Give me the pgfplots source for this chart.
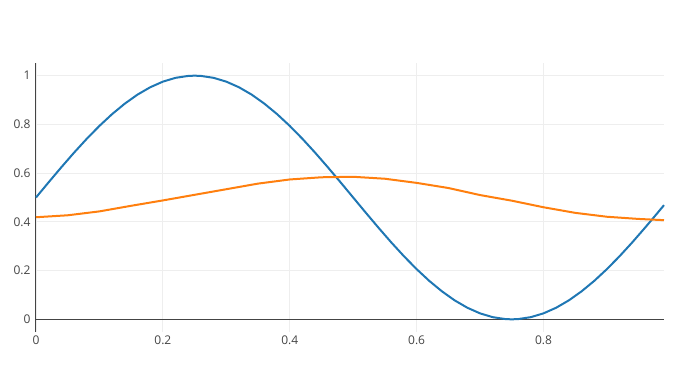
\documentclass[border=0pt]{standalone}
\usepackage{fontspec}
\setmainfont{Open Sans}
\usepackage{pgfplots}
\pgfplotsset{compat=1.18}
\definecolor{pblue}{HTML}{1F77B4}
\definecolor{porange}{HTML}{FF7F0E}
\definecolor{pgrid}{HTML}{EEEEEE}
\definecolor{ptext}{HTML}{444444}
\begin{document}
\begin{tikzpicture}
\begin{axis}[
  scale only axis,
  width=628pt, height=269pt,
  xmin=0, xmax=0.99,
  ymin=-0.052, ymax=1.052,
  axis y line=left, axis x line=bottom,
  x axis line style={draw=none},
  y axis line style={-, draw=ptext, line width=1pt},
  xtick={0,0.2,0.4,0.6,0.8},
  ytick={0,0.2,0.4,0.6,0.8,1},
  major tick length=0pt,
  grid=major,
  major grid style={pgrid, line width=0.8pt},
  extra y ticks={0},
  extra y tick labels={},
  extra y tick style={grid=major, major grid style={ptext, line width=1pt}},
  tick label style={font=\fontsize{12}{14}\selectfont, text=ptext},
  /pgf/number format/assume math mode=true,
  yticklabel style={xshift=-2pt},
  xticklabel style={yshift=0pt},
  clip=false,
]
\addplot[pblue, line width=2pt] coordinates {
(0,0.5) (0.02,0.5627) (0.04,0.6243) (0.06,0.6841) (0.08,0.7409) (0.10,0.7939)
(0.12,0.8423) (0.14,0.8852) (0.16,0.9222) (0.18,0.9524) (0.20,0.9755) (0.22,0.9911)
(0.24,0.9990) (0.25,1.0) (0.26,0.9990) (0.28,0.9911) (0.30,0.9755) (0.32,0.9524)
(0.34,0.9222) (0.36,0.8852) (0.38,0.8423) (0.40,0.7939) (0.42,0.7409) (0.44,0.6841)
(0.46,0.6243) (0.48,0.5627) (0.50,0.5) (0.52,0.4373) (0.54,0.3757) (0.56,0.3159)
(0.58,0.2591) (0.60,0.2061) (0.62,0.1577) (0.64,0.1148) (0.66,0.0778) (0.68,0.0476)
(0.70,0.0245) (0.72,0.0089) (0.74,0.0010) (0.75,0.0) (0.76,0.0010) (0.78,0.0089)
(0.80,0.0245) (0.82,0.0476) (0.84,0.0778) (0.86,0.1148) (0.88,0.1577) (0.90,0.2061)
(0.92,0.2591) (0.94,0.3159) (0.96,0.3757) (0.98,0.4373) (0.99,0.4686)
};
\addplot[porange, line width=2pt] coordinates {
(0,0.419) (0.05,0.427) (0.10,0.443) (0.15,0.466) (0.20,0.488) (0.25,0.511)
(0.30,0.534) (0.35,0.557) (0.40,0.574) (0.45,0.583) (0.50,0.585) (0.55,0.577)
(0.60,0.560) (0.65,0.539) (0.70,0.510) (0.75,0.487) (0.80,0.460) (0.85,0.437)
(0.90,0.421) (0.95,0.412) (0.99,0.407)
};
\end{axis}
\path (current axis.south west) ++(-36pt,-41pt) rectangle ++(681pt,373pt);
\end{tikzpicture}
\end{document}
